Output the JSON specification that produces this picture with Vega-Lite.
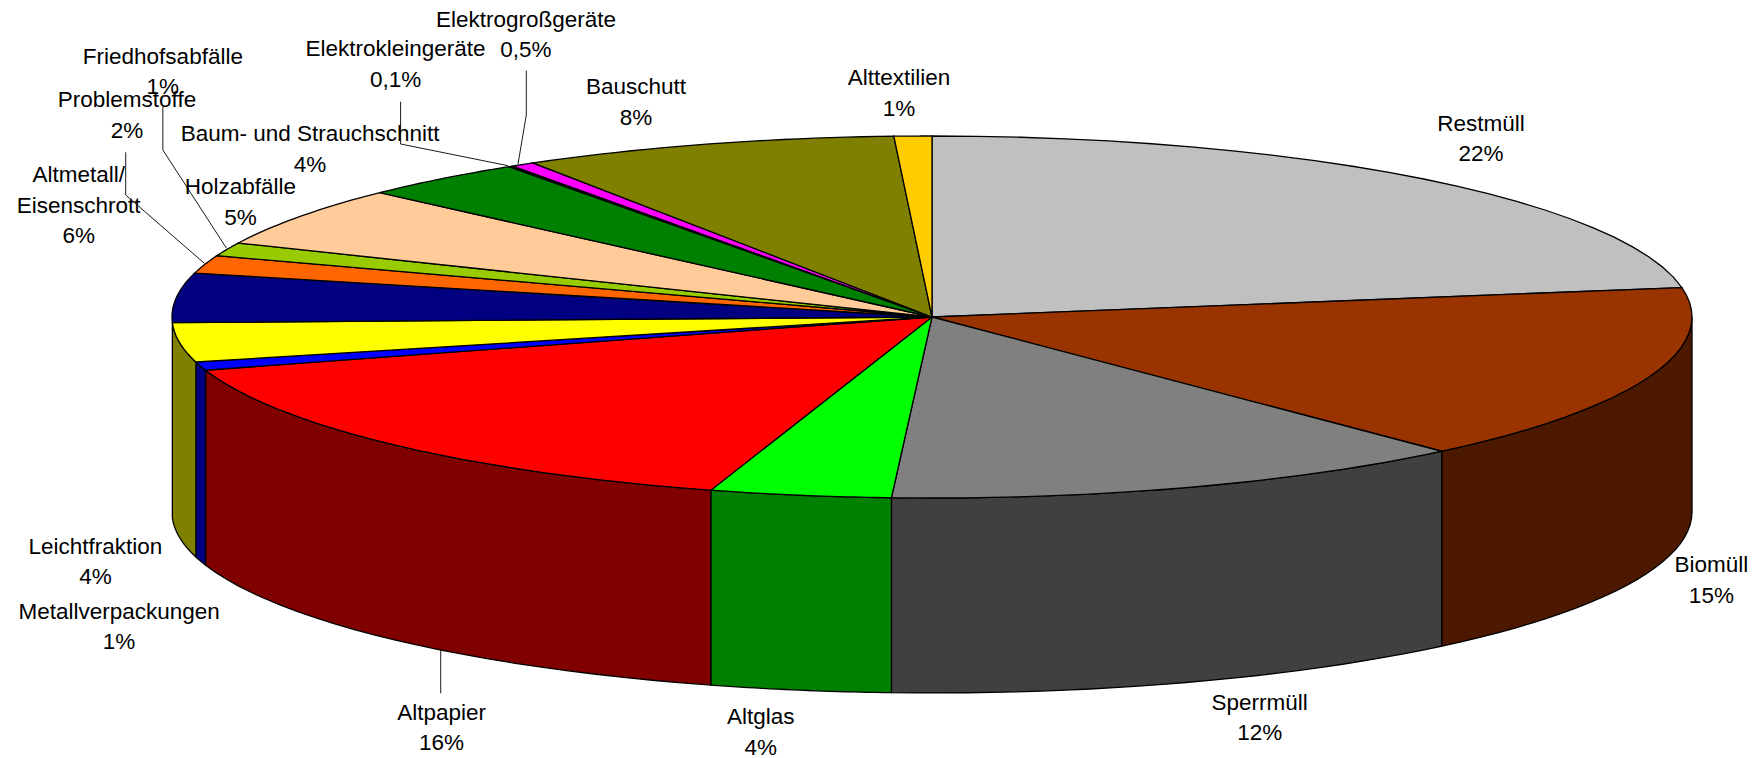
{"$schema":"https://vega.github.io/schema/vega-lite/v6.json","width":1762,"height":758,"padding":0,"autosize":{"type":"none"},"background":"white","config":{"view":{"stroke":null}},
"datasets":{"slices":[
{"rang":1,"slice":"Restmüll","share":22.4,"label":"Restmüll\n22%","labelU":0.7224,"labelV":-1.0688},
{"rang":2,"slice":"Biomüll","share":15.9,"label":"Biomüll\n15%","labelU":1.0255,"labelV":1.3709},
{"rang":3,"slice":"Sperrmüll","share":12.55,"label":"Sperrmüll\n12%","labelU":0.4312,"labelV":2.1312},
{"rang":4,"slice":"Altglas","share":3.85,"label":"Altglas\n4%","labelU":-0.2254,"labelV":2.2124},
{"rang":5,"slice":"Altpapier","share":15.55,"label":"Altpapier\n16%","labelU":-0.6453,"labelV":2.1875},
{"rang":6,"slice":"Metallverpackungen","share":0.75,"label":"Metallverpackungen\n1%","labelU":-1.0696,"labelV":1.6284},
{"rang":7,"slice":"Leichtfraktion","share":3.5,"label":"Leichtfraktion\n4%","labelU":-1.1007,"labelV":1.2687},
{"rang":8,"slice":"Altmetall/Eisenschrott","share":4.4,"label":"Altmetall/\nEisenschrott\n6%","labelU":-1.1228,"labelV":-0.784},
{"rang":9,"slice":"Problemstoffe","share":1.6,"label":"Problemstoffe\n2%","labelU":-1.0592,"labelV":-1.1965},
{"rang":10,"slice":"Friedhofsabfälle","share":1.2,"label":"Friedhofsabfälle\n1%","labelU":-1.012,"labelV":-1.4384},
{"rang":11,"slice":"Holzabfälle","share":5.35,"label":"Holzabfälle\n5%","labelU":-0.9099,"labelV":-0.718},
{"rang":12,"slice":"Baum- und Strauchschnitt","share":3.55,"label":"Baum- und Strauchschnitt\n4%","labelU":-0.8183,"labelV":-1.0097},
{"rang":13,"slice":"Elektrokleingeräte","share":0.1,"label":"Elektrokleingeräte\n0,1%","labelU":-0.7058,"labelV":-1.4788},
{"rang":14,"slice":"Elektrogroßgeräte","share":0.5,"label":"Elektrogroßgeräte\n0,5%","labelU":-0.5343,"labelV":-1.6434},
{"rang":15,"slice":"Bauschutt","share":8.0,"label":"Bauschutt\n8%","labelU":-0.3895,"labelV":-1.2705},
{"rang":16,"slice":"Alttextilien","share":0.8,"label":"Alttextilien\n1%","labelU":-0.0434,"labelV":-1.3202}
],
"leaders":[
{"slice":"Elektrokleingeräte","step":1,"u":-0.6992,"v":-1.1895},
{"slice":"Elektrokleingeräte","step":2,"u":-0.6992,"v":-0.9558},
{"slice":"Elektrokleingeräte","step":3,"u":-0.5579,"v":-0.8359},
{"slice":"Elektrogroßgeräte","step":1,"u":-0.5338,"v":-1.3608},
{"slice":"Elektrogroßgeräte","step":2,"u":-0.5338,"v":-1.116},
{"slice":"Elektrogroßgeräte","step":3,"u":-0.5447,"v":-0.8453},
{"slice":"Friedhofsabfälle","step":1,"u":-1.012,"v":-1.1619},
{"slice":"Friedhofsabfälle","step":2,"u":-1.012,"v":-0.9227},
{"slice":"Friedhofsabfälle","step":3,"u":-0.9282,"v":-0.3796},
{"slice":"Problemstoffe","step":1,"u":-1.0609,"v":-0.9099},
{"slice":"Problemstoffe","step":2,"u":-1.0609,"v":-0.674},
{"slice":"Problemstoffe","step":3,"u":-0.9574,"v":-0.2967},
{"slice":"Altpapier","step":1,"u":-0.6464,"v":1.8398},
{"slice":"Altpapier","step":2,"u":-0.6464,"v":2.079}
]},
"resolve":{"scale":{"fill":"independent"}},
"layer":[
{"data":{"name":"slices"},
"transform":[
{"window":[{"op":"sum","field":"share","as":"cumEnd"}],"sort":[{"field":"rang","order":"ascending"}]},
{"calculate":"datum.cumEnd-datum.share","as":"cumStart"},
{"filter":"datum.cumEnd>25 && datum.cumStart<74.5"},
{"calculate":"max(datum.cumStart,25)","as":"a"},
{"calculate":"sequence(0,50)","as":"k"},
{"flatten":["k"]},
{"calculate":"datum.a+(datum.cumEnd-datum.a)*(datum.k<=24?datum.k:49-datum.k)/24","as":"t"},
{"calculate":"sin(2*PI*datum.t/100)","as":"px"},
{"calculate":"-cos(2*PI*datum.t/100)+(datum.k<=24?0:1.077)","as":"py"}
],
"mark":{"type":"line","interpolate":"linear-closed","stroke":"black","strokeWidth":1.3},
"encoding":{
"x":{"field":"px","type":"quantitative","axis":null,"scale":{"domain":[-1.2263,1.0921],"nice":false,"zero":false}},
"y":{"field":"py","type":"quantitative","axis":null,"scale":{"domain":[-1.7514,2.4365],"nice":false,"zero":false,"reverse":true}},
"order":{"field":"k","type":"quantitative"},
"fill":{"field":"slice","type":"nominal","legend":null,"scale":{"domain":["Biomüll","Sperrmüll","Altglas","Altpapier","Metallverpackungen","Leichtfraktion"],"range":["#4C1900","#404040","#008000","#800000","#000080","#808000"]}}
}},
{"data":{"name":"slices"},
"transform":[
{"window":[{"op":"sum","field":"share","as":"cumEnd"}],"sort":[{"field":"rang","order":"ascending"}]},
{"calculate":"datum.cumEnd-datum.share","as":"cumStart"},
{"calculate":"sequence(0,26)","as":"k"},
{"flatten":["k"]},
{"calculate":"datum.cumStart+datum.share*(datum.k-1)/24","as":"t"},
{"calculate":"datum.k==0?0:sin(2*PI*datum.t/100)","as":"px"},
{"calculate":"datum.k==0?0:-cos(2*PI*datum.t/100)","as":"py"}
],
"mark":{"type":"line","interpolate":"linear-closed","stroke":"black","strokeWidth":1.3},
"encoding":{
"x":{"field":"px","type":"quantitative","axis":null,"scale":{"domain":[-1.2263,1.0921],"nice":false,"zero":false}},
"y":{"field":"py","type":"quantitative","axis":null,"scale":{"domain":[-1.7514,2.4365],"nice":false,"zero":false,"reverse":true}},
"order":{"field":"k","type":"quantitative"},
"fill":{"field":"slice","type":"nominal","legend":null,"scale":{"domain":["Restmüll","Biomüll","Sperrmüll","Altglas","Altpapier","Metallverpackungen","Leichtfraktion","Altmetall/Eisenschrott","Problemstoffe","Friedhofsabfälle","Holzabfälle","Baum- und Strauchschnitt","Elektrokleingeräte","Elektrogroßgeräte","Bauschutt","Alttextilien"],"range":["#C0C0C0","#993300","#808080","#00FF00","#FF0000","#0000FF","#FFFF00","#000080","#FF6600","#99CC00","#FFCC99","#008000","#000000","#FF00FF","#808000","#FFCC00"]}}
}},
{"data":{"name":"leaders"},
"mark":{"type":"line","stroke":"black","strokeWidth":0.9},
"encoding":{
"x":{"field":"u","type":"quantitative","axis":null,"scale":{"domain":[-1.2263,1.0921],"nice":false,"zero":false}},
"y":{"field":"v","type":"quantitative","axis":null,"scale":{"domain":[-1.7514,2.4365],"nice":false,"zero":false,"reverse":true}},
"order":{"field":"step","type":"quantitative"},
"detail":{"field":"slice","type":"nominal"}
}},
{"data":{"name":"slices"},
"mark":{"type":"text","font":"Liberation Sans","fontSize":22.5,"lineHeight":30.5,"lineBreak":"\n","align":"center","baseline":"middle","color":"black"},
"encoding":{
"x":{"field":"labelU","type":"quantitative","axis":null,"scale":{"domain":[-1.2263,1.0921],"nice":false,"zero":false}},
"y":{"field":"labelV","type":"quantitative","axis":null,"scale":{"domain":[-1.7514,2.4365],"nice":false,"zero":false,"reverse":true}},
"text":{"field":"label","type":"nominal"}
}}
]}
